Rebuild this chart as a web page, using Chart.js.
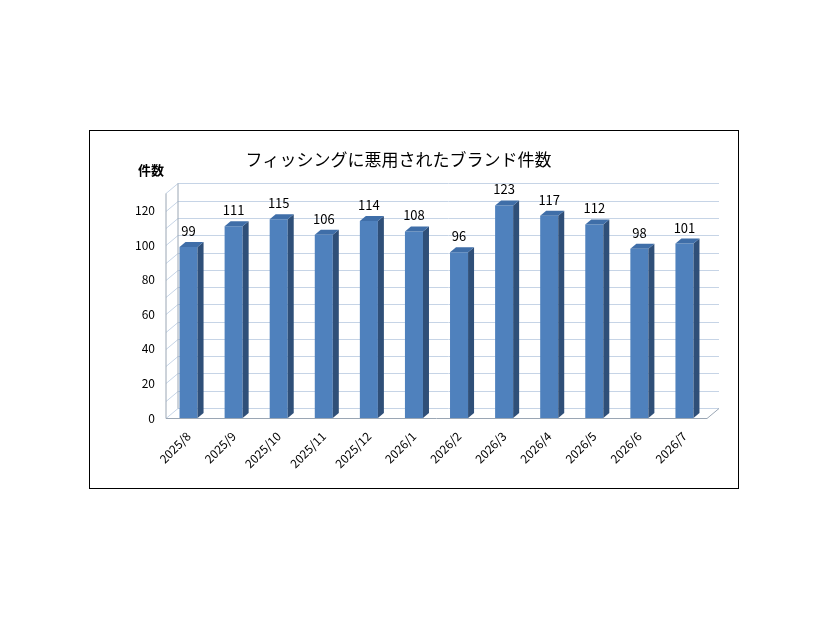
<!DOCTYPE html>
<html><head><meta charset="utf-8">
<script src="https://cdn.jsdelivr.net/npm/chart.js@4"></script>
<style>
body{margin:0;background:#fff;}
#frame{position:absolute;left:89px;top:130px;width:648px;height:357px;border:1px solid #000;}
</style></head>
<body>
<div id="frame"><canvas id="c" width="648" height="357"></canvas></div>
<script>
const categories = ['2025/8','2025/9','2025/10','2025/11','2025/12','2026/1','2026/2','2026/3','2026/4','2026/5','2026/6','2026/7'];
const counts = [99,111,115,106,114,108,96,123,117,112,98,101];

const DX = 12, DY = 10, BX = 6, BY = 5;
const FONT = '"Noto Sans CJK JP", "Liberation Sans", sans-serif';

// back wall grid + 3D bar faces + value labels
const threeD = {
  id: 'threeD',
  beforeDatasetsDraw(chart) {
    const {ctx, chartArea: a, scales: {y}} = chart;
    ctx.save();
    ctx.strokeStyle = '#c6d4e6';
    ctx.lineWidth = 1;
    for (let v = 0; v <= 130; v += 10) {
      const py = Math.round(y.getPixelForValue(v)) + 0.5;
      ctx.beginPath();
      ctx.moveTo(a.left, py);
      ctx.lineTo(a.left + DX, py - DY);
      ctx.lineTo(a.right + DX, py - DY);
      ctx.stroke();
    }
    ctx.strokeStyle = '#9aa6b4';
    const by = Math.round(y.getPixelForValue(0)) + 0.5;
    ctx.beginPath();
    ctx.moveTo(a.left + DX, a.top - DY);
    ctx.lineTo(a.left + DX, by - DY);
    ctx.moveTo(a.left, y.getPixelForValue(130));
    ctx.lineTo(a.left, by);
    ctx.lineTo(a.right, by);
    ctx.lineTo(a.right + DX, by - DY);
    ctx.stroke();
    ctx.restore();
  },
  afterDatasetsDraw(chart) {
    const {ctx} = chart;
    ctx.save();
    chart.getDatasetMeta(0).data.forEach((bar, i) => {
      const l = bar.x - bar.width / 2, r = bar.x + bar.width / 2, t = bar.y, b = bar.base;
      ctx.fillStyle = '#2f4f78';
      ctx.beginPath();
      ctx.moveTo(r, t); ctx.lineTo(r + BX, t - BY); ctx.lineTo(r + BX, b - BY); ctx.lineTo(r, b);
      ctx.closePath(); ctx.fill();
      ctx.fillStyle = '#3f6ea8';
      ctx.beginPath();
      ctx.moveTo(l, t); ctx.lineTo(l + BX, t - BY); ctx.lineTo(r + BX, t - BY); ctx.lineTo(r, t);
      ctx.closePath(); ctx.fill();
      ctx.fillStyle = '#000';
      ctx.font = '13px ' + FONT;
      ctx.textAlign = 'center';
      ctx.fillText(String(counts[i]), bar.x, t - 11);
    });
    ctx.font = 'bold 13px ' + FONT;
    ctx.textAlign = 'left';
    ctx.fillText('件数', 48, 44);
    ctx.restore();
  }
};

new Chart(document.getElementById('c'), {
  type: 'bar',
  data: {
    labels: categories,
    datasets: [{
      data: counts,
      backgroundColor: '#4f81bd',
      barPercentage: 0.4,
      categoryPercentage: 1
    }]
  },
  options: {
    responsive: false,
    animation: false,
    layout: {padding: {left: 0, right: 31, top: 0, bottom: 0}},
    plugins: {
      legend: {display: false},
      tooltip: {enabled: false},
      title: {
        display: true,
        text: 'フィッシングに悪用されたブランド件数',
        color: '#000',
        font: {family: FONT, size: 17, weight: 'normal'},
        padding: {top: 18, bottom: 24}
      }
    },
    scales: {
      x: {
        grid: {display: false},
        border: {display: false},
        ticks: {color: '#000', maxRotation: 45, minRotation: 45, font: {family: FONT, size: 12}},
        afterFit: s => { s.height = 70; }
      },
      y: {
        min: 0, max: 130,
        grid: {display: false},
        border: {display: false},
        ticks: {stepSize: 10, color: '#000', font: {family: FONT, size: 12}},
        afterFit: s => { s.width = 76; }
      }
    }
  },
  plugins: [threeD]
});
</script>
</body></html>
